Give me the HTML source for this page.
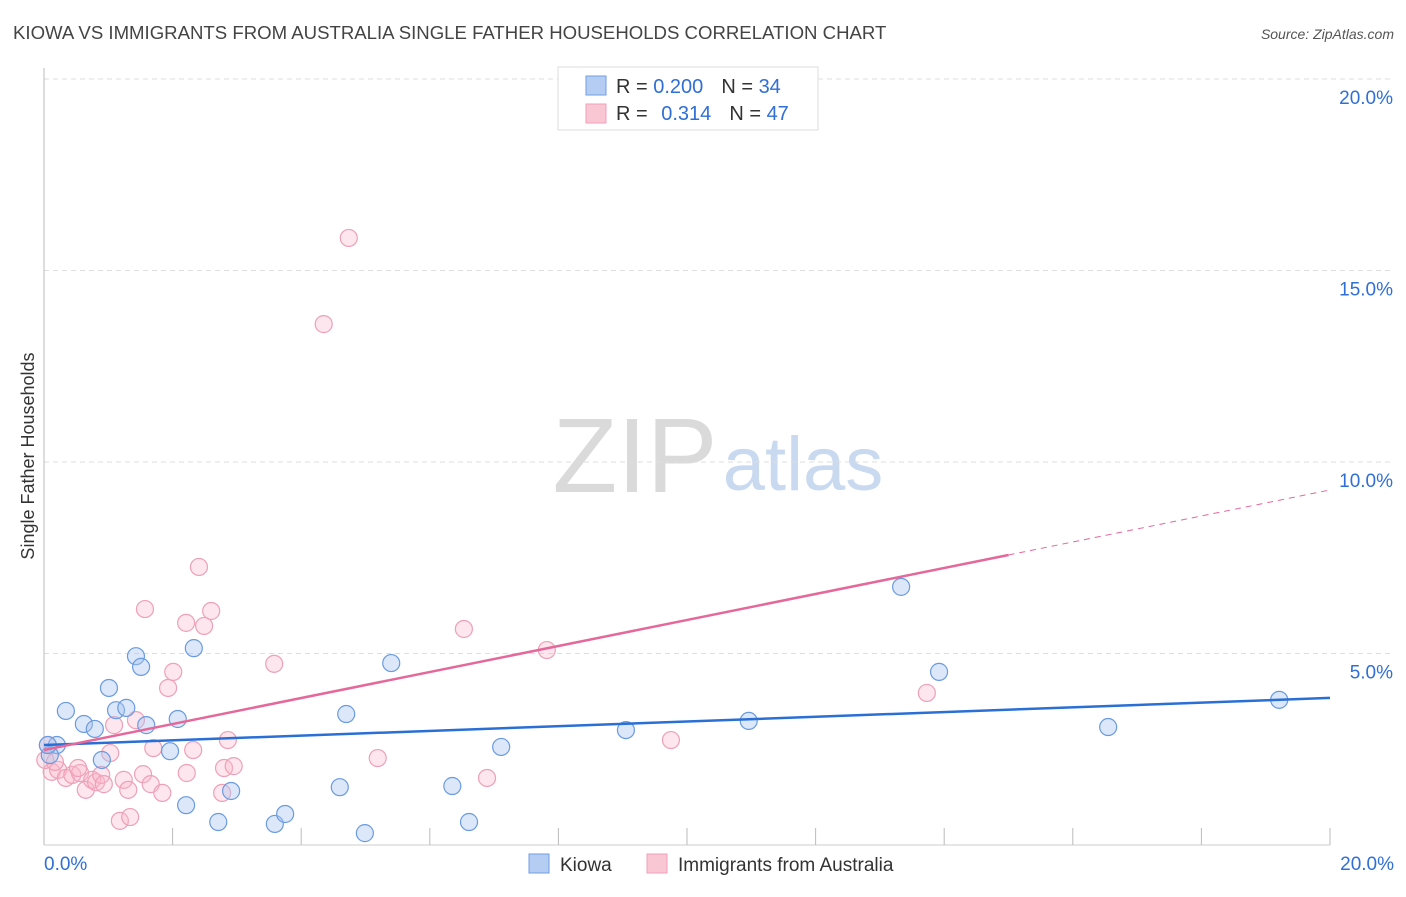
<!DOCTYPE html>
<html><head><meta charset="utf-8"><style>
body{margin:0;background:#fff;font-family:"Liberation Sans",sans-serif;}
svg text{font-family:"Liberation Sans",sans-serif;}
</style></head><body>
<svg id="chart" width="1406" height="892" viewBox="0 0 1406 892" xmlns="http://www.w3.org/2000/svg">
<text x="13" y="39" font-size="18.6" fill="#444">KIOWA VS IMMIGRANTS FROM AUSTRALIA SINGLE FATHER HOUSEHOLDS CORRELATION CHART</text>
<text x="1394" y="39" font-size="14" font-style="italic" fill="#555" text-anchor="end">Source: ZipAtlas.com</text>
<g>
<text x="635" y="492" font-size="106" font-family="Liberation Serif" fill="#dadada" text-anchor="middle">ZIP</text>
<text x="803" y="490" font-size="76" fill="#c9d9ef" text-anchor="middle">atlas</text>
</g>
<g id="grid"></g>
<g id="axes"></g>
<text transform="translate(34,456) rotate(-90)" font-size="18" fill="#333" text-anchor="middle">Single Father Households</text>
<g id="pts"></g>
<g id="lines"></g>
<g>
<rect x="558" y="67" width="260" height="63" fill="#fff" stroke="#ddd"/>
<rect x="586" y="76" width="20" height="19" fill="#b5cdf3" stroke="#6f9ee0"/>
<rect x="586" y="104" width="20" height="19" fill="#f9c6d4" stroke="#eea0b8"/>
<text x="616" y="93" font-size="20" fill="#333">R = <tspan fill="#2f6fd6">0.200</tspan><tspan dx="18">N = </tspan><tspan fill="#2f6fd6">34</tspan></text>
<text x="616" y="120" font-size="20" fill="#333">R = <tspan fill="#2f6fd6" dx="8">0.314</tspan><tspan dx="18">N = </tspan><tspan fill="#2f6fd6">47</tspan></text>
</g>
<g>
<rect x="529" y="854" width="20" height="19" fill="#b5cdf3" stroke="#6f9ee0"/>
<text x="560" y="871" font-size="19" fill="#333">Kiowa</text>
<rect x="647" y="854" width="20" height="19" fill="#f9c6d4" stroke="#eea0b8"/>
<text x="678" y="871" font-size="19" fill="#333">Immigrants from Australia</text>
</g>
</svg>
<script>
const xTicks=[0,2,4,6,8,10,12,14,16,18,20];
const yTicks=[5,10,15,20];
const yTickLabels=["5.0%","10.0%","15.0%","20.0%"];
const kiowaX=[0.20,0.34,0.62,0.79,0.90,1.01,1.12,1.28,1.43,1.51,1.59,1.96,2.08,2.21,2.33,2.71,2.91,3.59,3.75,4.60,4.70,4.99,5.40,6.35,6.61,7.11,9.05,10.96,13.33,13.92,16.55,19.21,0.09,0.06];
const kiowaY=[2.61,3.50,3.16,3.03,2.22,4.10,3.52,3.58,4.93,4.65,3.13,2.45,3.29,1.04,5.14,0.60,1.41,0.55,0.81,1.51,3.42,0.31,4.75,1.54,0.60,2.56,3.00,3.24,6.74,4.52,3.08,3.79,2.35,2.61];
const ausX=[1.57,2.21,2.41,2.60,2.49,2.01,1.93,1.43,1.09,1.70,2.32,2.86,1.03,1.24,1.31,1.54,1.66,1.84,2.22,2.80,2.95,2.77,1.18,1.34,3.58,4.35,4.74,5.19,6.53,6.89,7.82,9.75,13.73,0.06,0.12,0.22,0.34,0.44,0.56,0.65,0.75,0.81,0.89,0.93,0.02,0.17,0.53];
const ausY=[6.16,5.80,7.26,6.11,5.72,4.52,4.10,3.26,3.13,2.53,2.48,2.74,2.40,1.70,1.44,1.85,1.59,1.36,1.88,2.01,2.06,1.36,0.63,0.73,4.73,13.60,15.85,2.27,5.64,1.75,5.09,2.74,3.97,2.61,1.91,1.96,1.75,1.83,1.88,1.44,1.70,1.64,1.83,1.59,2.22,2.17,2.01];
const kiowaLine=[2.61,3.84];
const ausLine=[2.48,9.27];
const ausSolidEnd=15.0;

const X=v=>44+v*64.3, Y=v=>845-v*38.3;
const NS="http://www.w3.org/2000/svg";
function mk(t,a,p){const e=document.createElementNS(NS,t);for(const k in a)e.setAttribute(k,a[k]);p.appendChild(e);return e;}
const grid=document.getElementById('grid'),axes=document.getElementById('axes'),pts=document.getElementById('pts'),lines=document.getElementById('lines');
yTicks.forEach((v,i)=>{
 const l=mk('line',{x1:44,x2:1394,y1:Y(v),y2:Y(v),stroke:'#ddd','stroke-dasharray':'5,4'},grid);
 
 
 const t=mk('text',{x:1393,y:Y(v)+25,'font-size':19,fill:'#2f6fd6','text-anchor':'end'},axes);
 t.textContent=yTickLabels[i];
 
 
});
mk('line',{x1:44,x2:44,y1:68,y2:845,stroke:'#bbb'},axes);
mk('line',{x1:44,x2:1330,y1:845,y2:845,stroke:'#ccc'},axes);
xTicks.forEach(v=>{
 const l=mk('line',{x1:X(v),x2:X(v),y1:828,y2:845,stroke:'#bbb'},axes);
 
 
});
const x0=mk('text',{x:44,y:870,'font-size':19,fill:'#2f6fd6'},axes);x0.textContent='0.0%';


const x1=mk('text',{x:1394,y:870,'font-size':19,fill:'#2f6fd6','text-anchor':'end'},axes);x1.textContent='20.0%';


ausX.forEach((v,i)=>{
 const c=mk('circle',{cx:X(v),cy:Y(ausY[i]),r:8.5,fill:'rgba(248,182,202,0.35)',stroke:'#eea0b8','stroke-width':1.2},pts);
 
 
});
kiowaX.forEach((v,i)=>{
 const c=mk('circle',{cx:X(v),cy:Y(kiowaY[i]),r:8.5,fill:'rgba(168,196,240,0.4)',stroke:'#6a9be0','stroke-width':1.2},pts);
 
 
});
const aAt=x=>ausLine[0]+(ausLine[1]-ausLine[0])*x/20;
const bl=mk('line',{x1:X(0),y1:Y(kiowaLine[0]),x2:X(20),y2:Y(kiowaLine[1]),stroke:'#2a6fd6','stroke-width':2.5},lines);


const pl=mk('line',{x1:X(0),y1:Y(aAt(0)),x2:X(ausSolidEnd),y2:Y(aAt(ausSolidEnd)),stroke:'#e5689a','stroke-width':2.5},lines);


const pd=mk('line',{x1:X(ausSolidEnd),y1:Y(aAt(ausSolidEnd)),x2:X(20),y2:Y(aAt(20)),stroke:'#e5689a','stroke-width':1,'stroke-dasharray':'6,5'},lines);


</script>
</body></html>
